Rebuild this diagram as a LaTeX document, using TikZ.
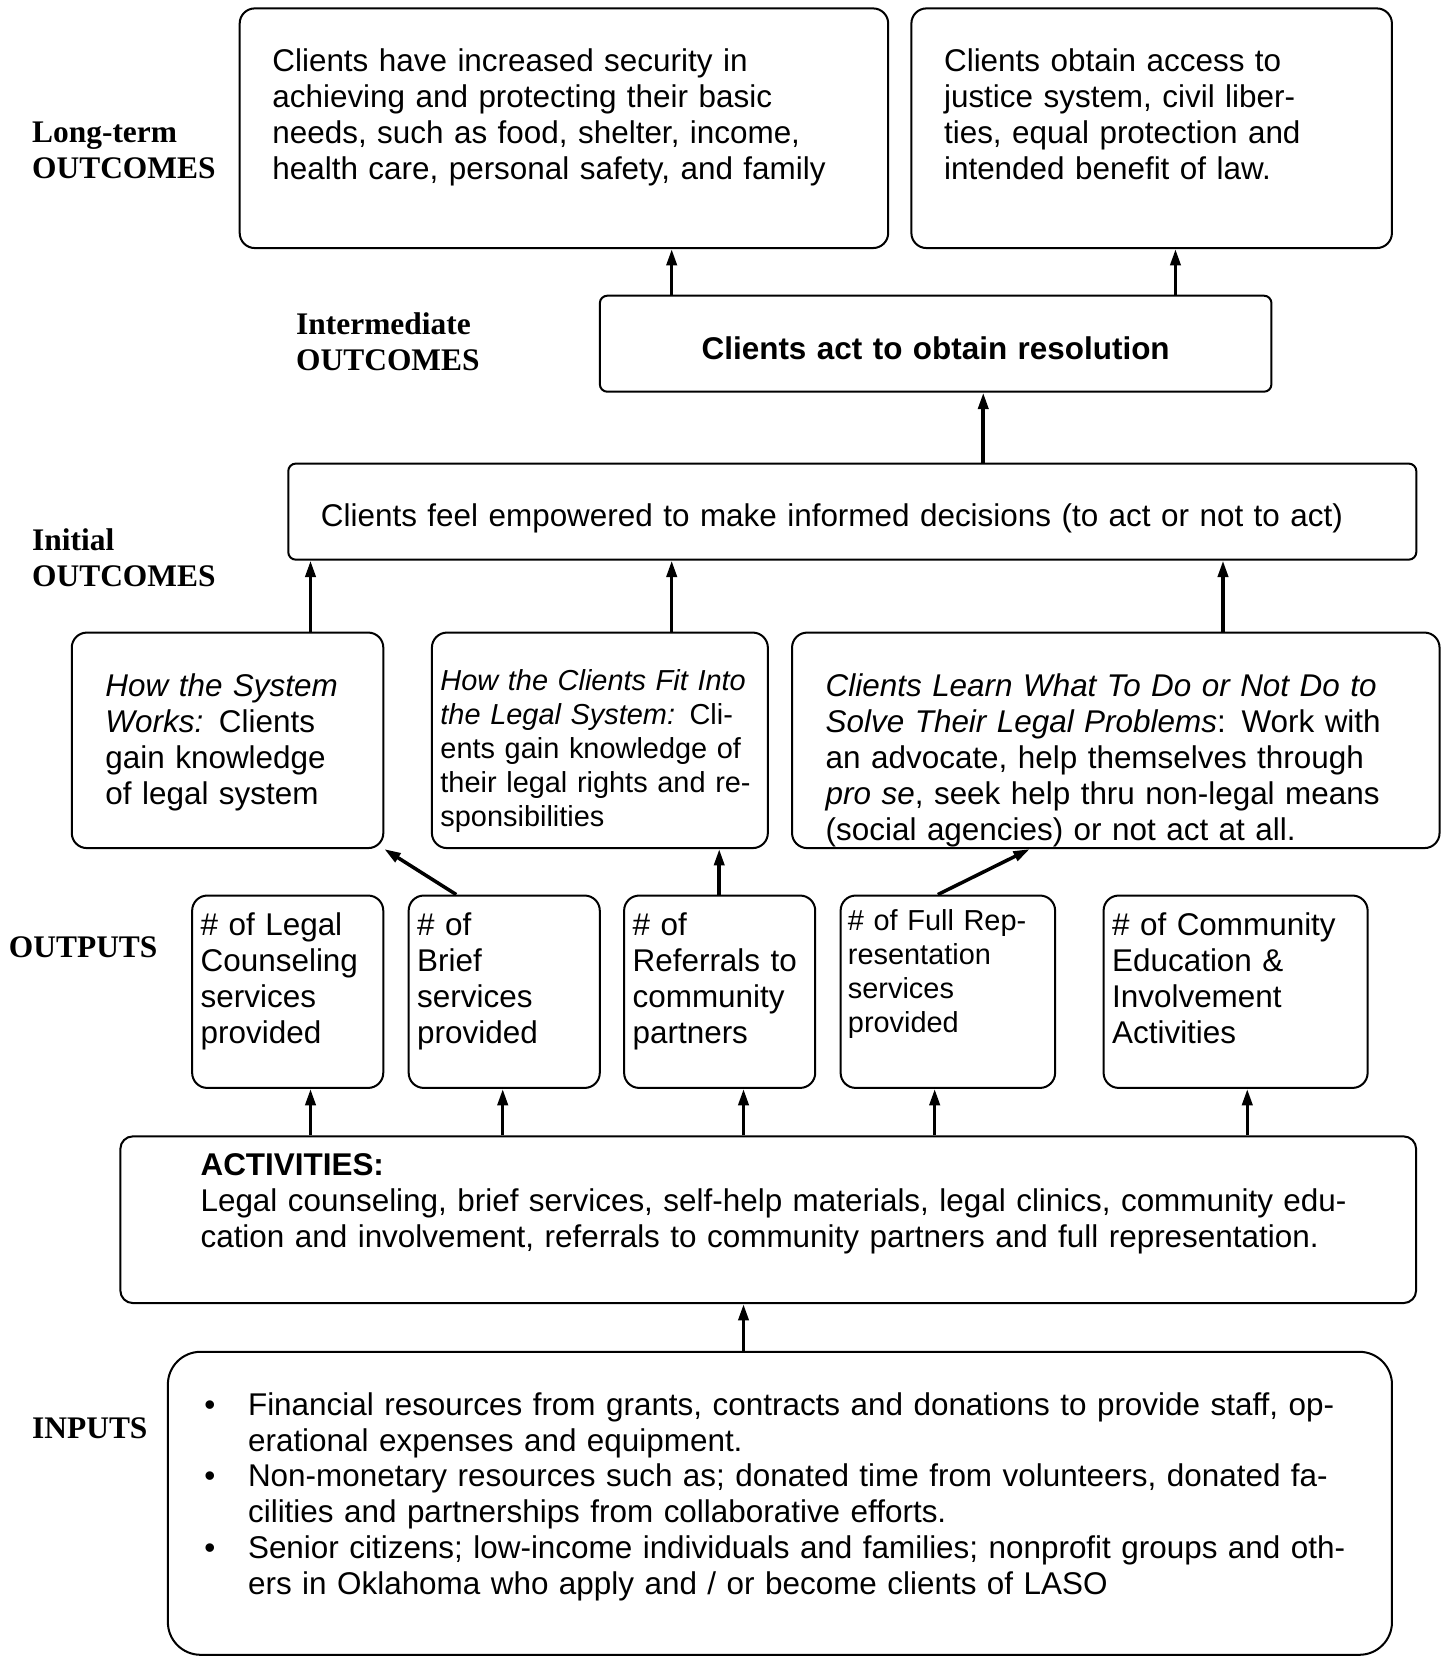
\documentclass[tikz,border=0pt]{standalone}
\usepackage{fontspec}
\setmainfont{Liberation Sans}
\newfontfamily\labelfont{Liberation Serif}
\usepackage{tikz}
\usetikzlibrary{arrows.meta, positioning}
\newcommand{\itembullet}{\leavevmode\llap{\textbullet\hspace{13pt}}}

\begin{document}
\begin{tikzpicture}[
        x=0.42pt, y=-0.42pt,
        box/.style={draw, line width=0.8pt, rounded corners=6pt, anchor=north west, inner sep=0pt, align=left, font=\fontsize{12.5}{14.28}\selectfont},
        smalltext/.style={font=\fontsize{11.5}{13.5}\selectfont},
        lpad/.style={execute at begin node={\leftskip=#1\relax}},
        arrow/.style={-{Triangle[length=6.5pt, width=4pt]}, line width=1.4pt},
        stage/.style={font=\fontsize{12.5}{14.28}\selectfont\labelfont\bfseries, text width=3cm, align=left, anchor=base west, inner sep=0pt}
    ]
    \useasboundingbox (0,0) rectangle (1368,1568);

    % row labels
    \node[stage] (ltlabel) at (30,135) {Long-term\\OUTCOMES};
    \node[stage] (imlabel) at (280,317) {Intermediate\\OUTCOMES};
    \node[stage] (inlabel) at (30,521) {Initial\\OUTCOMES};
    \node[stage] (outlabel) at (8,907) {OUTPUTS};
    \node[stage] (inplabel) at (30,1362) {INPUTS};

    % outcomes
    \node[box, text width=257.9pt, lpad=13pt, text height=25.2pt, text depth=70.1pt] (longa) at (226,7) {Clients have increased security in\\achieving and protecting their basic\\needs, such as food, shelter, income,\\health care, personal safety, and family};
    \node[box, text width=191.1pt, lpad=13pt, text height=25.2pt, text depth=70.1pt] (longb) at (862,7) {Clients obtain access to\\justice system, civil liber-\\ties, equal protection and\\intended benefit of law.};
    \node[box, rounded corners=3pt, align=center, text width=267.1pt, text height=25.2pt, text depth=13pt] (inter) at (567,279) {\textbf{Clients act to obtain resolution}};
    \node[box, rounded corners=3pt, text width=448.6pt, lpad=13pt, text height=25.2pt, text depth=13pt] (init) at (272,438) {Clients feel empowered to make informed decisions (to act or not to act)};

    \node[box, text width=123.9pt, lpad=13.4pt, text height=25.6pt, text depth=60.1pt] (howsys) at (67,598) {{\itshape How the System}\\{\itshape Works:} Clients\\gain knowledge\\of legal system};
    \node[box, smalltext, text width=133.6pt, lpad=3.4pt, text height=23.1pt, text depth=62.6pt] (howfit) at (408,598) {{\itshape How the Clients Fit Into}\\{\itshape the Legal System:} Cli-\\ents gain knowledge of\\their legal rights and re-\\sponsibilities};
    \node[box, text width=257.5pt, lpad=13.4pt, text height=25.6pt, text depth=60.1pt] (learn) at (749,598) {{\itshape Clients Learn What To Do or Not Do to}\\{\itshape Solve Their Legal Problems}: Work with\\an advocate, help themselves through\\{\itshape pro se}, seek help thru non-legal means\\(social agencies) or not act at all.};

    % outputs
    \node[box, text width=76pt, lpad=3.4pt, text height=16pt, text depth=60.5pt] (counsel) at (181,847) {\# of Legal\\Counseling\\services\\provided};
    \node[box, text width=76pt, lpad=3.4pt, text height=16pt, text depth=60.5pt] (brief) at (386,847) {\# of\\Brief\\services\\provided};
    \node[box, text width=76pt, lpad=3.4pt, text height=16pt, text depth=60.5pt] (referral) at (590,847) {\# of\\Referrals to\\community\\partners};
    \node[box, smalltext, text width=85.3pt, lpad=2.9pt, text height=13.9pt, text depth=62.6pt] (fullrep) at (795,847) {\# of Full Rep-\\resentation\\services\\provided};
    \node[box, text width=105pt, lpad=3.4pt, text height=16pt, text depth=60.5pt] (commed) at (1044,847) {\# of Community\\Education \&\\Involvement\\Activities};

    % activities and inputs
    \node[box, rounded corners=5pt, text width=515.3pt, lpad=31.9pt, text height=15.5pt, text depth=50.8pt] (activities) at (113,1075) {\textbf{ACTIVITIES:}\\Legal counseling, brief services, self-help materials, legal clinics, community edu-\\cation and involvement, referrals to  community partners and full representation.};
    \node[box, rounded corners=13pt, text width=486.8pt, lpad=31.9pt, text height=25.2pt, text depth=95.3pt] (inputs) at (158,1279) {\itembullet Financial resources from grants, contracts and donations to provide staff, op-\\erational expenses and equipment.\\\itembullet Non-monetary resources such as; donated time from volunteers, donated fa-\\cilities and partnerships from collaborative efforts.\\\itembullet Senior citizens; low-income individuals and families; nonprofit groups and oth-\\ers in Oklahoma who apply and / or become clients of LASO};

    \draw[arrow] (636,0 |- inter.north) -- (636,0 |- longa.south);
    \draw[arrow] (1113,0 |- inter.north) -- (1113,0 |- longb.south);
    \draw[arrow] (931,0 |- init.north) -- (931,0 |- inter.south);
    \draw[arrow] (294,0 |- howsys.north) -- (294,0 |- init.south);
    \draw[arrow] (636,0 |- howfit.north) -- (636,0 |- init.south);
    \draw[arrow] (1158,0 |- learn.north) -- (1158,0 |- init.south);
    \draw[arrow] (432,0 |- brief.north) -- (howsys.south east);
    \draw[arrow] (681,0 |- referral.north) -- (681,0 |- howfit.south);
    \draw[arrow] (888,0 |- fullrep.north) -- (975,0 |- learn.south);
    \draw[arrow] (294,0 |- activities.north) -- (294,0 |- counsel.south);
    \draw[arrow] (476,0 |- activities.north) -- (476,0 |- brief.south);
    \draw[arrow] (704,0 |- activities.north) -- (704,0 |- referral.south);
    \draw[arrow] (885,0 |- activities.north) -- (885,0 |- fullrep.south);
    \draw[arrow] (1181,0 |- activities.north) -- (1181,0 |- commed.south);
    \draw[arrow] (704,0 |- inputs.north) -- (704,0 |- activities.south);
\end{tikzpicture}
\end{document}
